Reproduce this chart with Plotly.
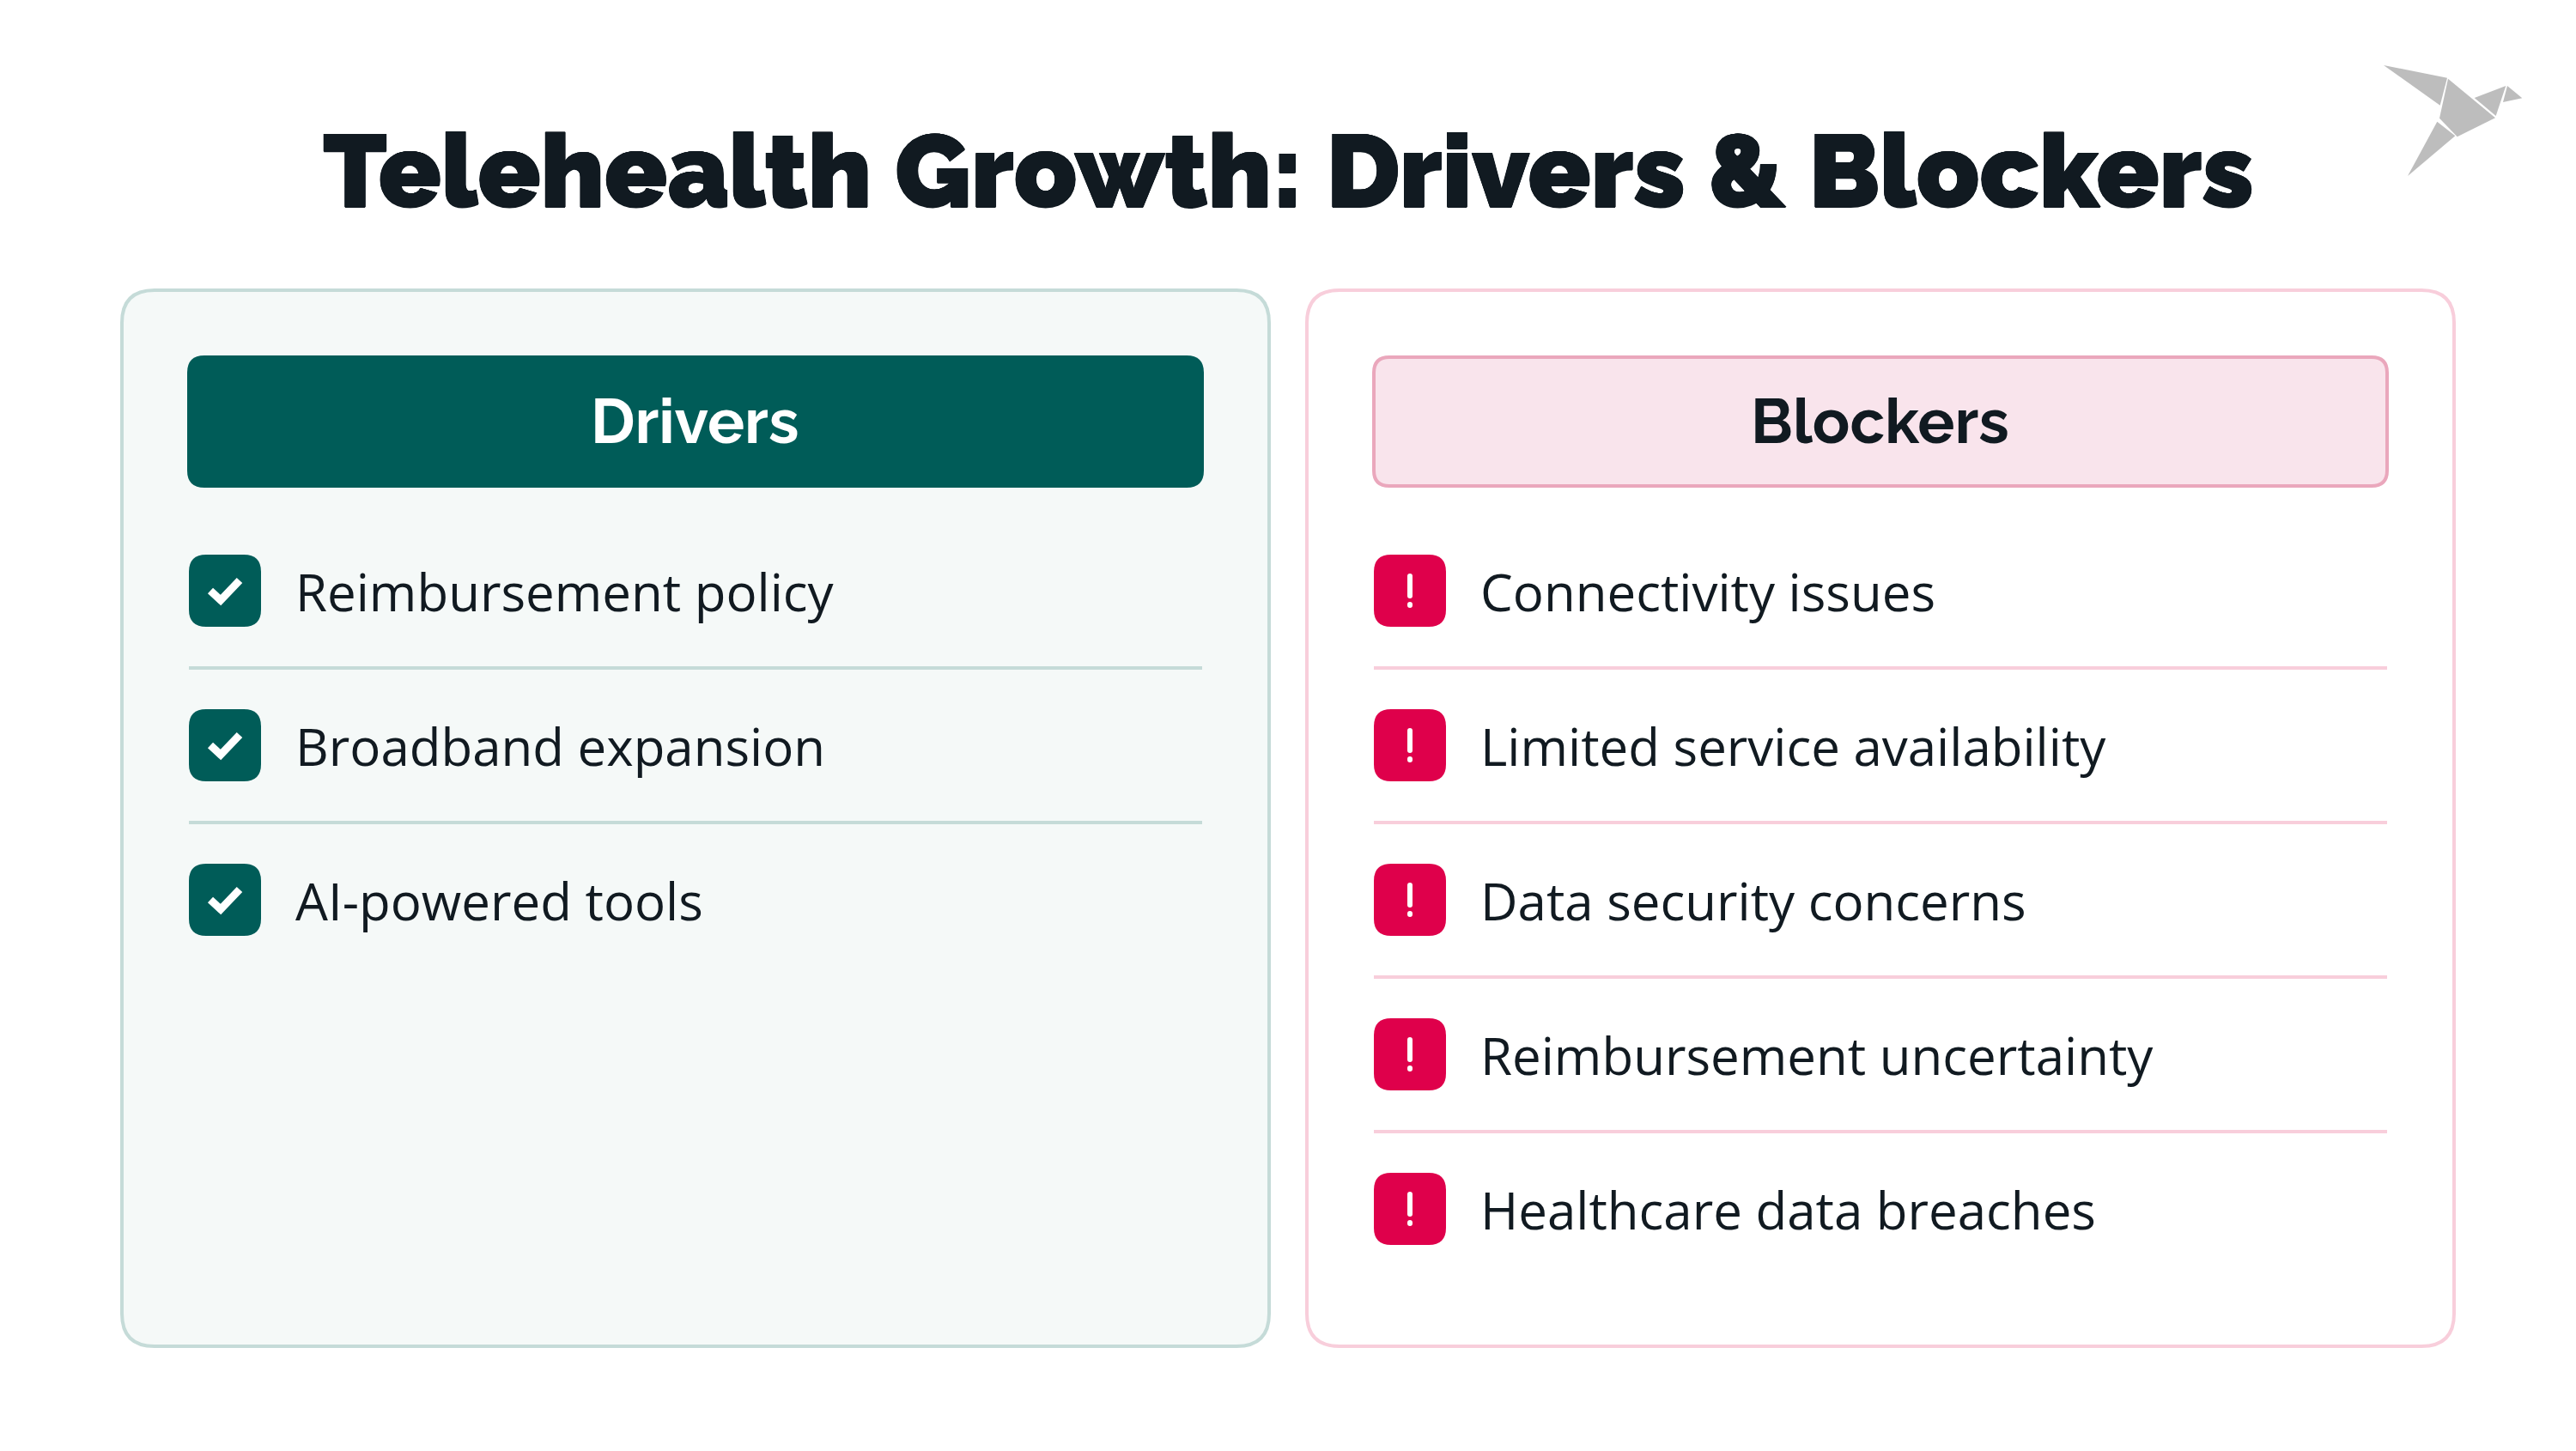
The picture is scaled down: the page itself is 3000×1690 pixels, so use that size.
import plotly.graph_objects as go

TITLE = "Telehealth Growth: Drivers & Blockers"
DRIVERS_HEADER = "Drivers"
BLOCKERS_HEADER = "Blockers"
DRIVERS = ["Reimbursement policy", "Broadband expansion", "AI-powered tools"]
BLOCKERS = [
    "Connectivity issues",
    "Limited service availability",
    "Data security concerns",
    "Reimbursement uncertainty",
    "Healthcare data breaches",
]

INK = "#111A21"
TEAL = "#005C58"
RED = "#DF004B"
W, H = 3000, 1690
ROW_STEP = 180
FIRST_ROW = 688

fig = go.Figure()
shapes = []
notes = []


def rrect(x0, y0, x1, y1, r):
    return (f"M{x0+r},{y0} L{x1-r},{y0} Q{x1},{y0} {x1},{y0+r} L{x1},{y1-r} Q{x1},{y1} {x1-r},{y1} "
            f"L{x0+r},{y1} Q{x0},{y1} {x0},{y1-r} L{x0},{y0+r} Q{x0},{y0} {x0+r},{y0} Z")


def add_path(path, fill="rgba(0,0,0,0)", line=None, width=0):
    shapes.append(dict(type="path", path=path, fillcolor=fill, layer="above",
                       line=dict(color=line or "rgba(0,0,0,0)", width=width)))


def add_text(x, y, text, size, family, color=INK, anchor="left", weight=None, shadow=None):
    notes.append(dict(x=x, y=y, xref="x", yref="y", text=text, showarrow=False, xanchor=anchor, yanchor="middle",
                      font=dict(size=size, family=family, color=color, weight=weight, shadow=shadow)))


def panel(left, right, fill, border, head_fill, head_line, head_text, head_color, items, line_color, icon_color, kind):
    add_path(rrect(left, 338, right, 1568, 38), fill, border, 4)
    hx0, hx1 = left + 76, right - 76
    if head_line:
        add_path(rrect(hx0 + 2, 416, hx1 - 2, 566, 18), head_fill, head_line, 4)
    else:
        add_path(rrect(hx0, 414, hx1, 568, 20), head_fill)
    add_text((left + right) / 2 - 1, 490, head_text, 72, "Raleway, Inter, Lato", head_color, "center", 700)
    for i, label in enumerate(items):
        cy = FIRST_ROW + i * ROW_STEP
        ix = left + 78
        add_path(rrect(ix, cy - 42, ix + 84, cy + 42, 20), icon_color)
        cx = ix + 42
        if kind == "check":
            add_path(f"M{cx-17},{cy} L{cx-5},{cy+11} L{cx+17},{cy-12}", line="#FFFFFF", width=9)
        else:
            add_path(rrect(cx - 3, cy - 20, cx + 3, cy + 9, 3), "#FFFFFF")
            add_path(rrect(cx - 3, cy + 13, cx + 3, cy + 20, 3), "#FFFFFF")
        add_text(ix + 122, cy + 1, label, 60, "Open Sans")
        if i < len(items) - 1:
            shapes.append(dict(type="line", x0=ix, x1=right - 78, y0=cy + 90, y1=cy + 90, layer="above",
                               line=dict(color=line_color, width=4)))


panel(142, 1478, "#F5F9F8", "#C5DBD8", TEAL, None, DRIVERS_HEADER, "#FFFFFF", DRIVERS, "#C5DBD8", TEAL, "check")
panel(1522, 2858, "#FFFFFF", "#F8CEDB", "#F9E4EC", "#EAA7BC", BLOCKERS_HEADER, INK, BLOCKERS, "#F8CEDB", RED, "alert")

# title, ever so slightly thickened to match the heavy weight of the original
add_text(1500, 198, TITLE, 120, "Raleway, Inter", INK, "center", 900,
         f"0.5px 0 0 {INK}, -0.5px 0 0 {INK}, 0 0.5px 0 {INK}, 0 -0.5px 0 {INK}")

# origami bird logo, top right
for pts in [
    [(2776, 76), (2850, 90.7), (2841.7, 122.7)],
    [(2851, 91.7), (2906, 137.3), (2861.7, 159.3), (2841, 137.7)],
    [(2838.3, 141.7), (2859.3, 158.3), (2804, 205)],
    [(2881.7, 114), (2918.3, 100), (2906.7, 135)],
    [(2920, 100), (2937.3, 114.3), (2915, 119)],
]:
    add_path("M" + " L".join(f"{x},{y}" for x, y in pts) + " Z", "#BDBDBD")

fig.update_layout(
    width=W, height=H, autosize=False,
    margin=dict(l=0, r=0, t=0, b=0),
    paper_bgcolor="#FFFFFF", plot_bgcolor="#FFFFFF",
    showlegend=False,
    shapes=shapes, annotations=notes,
    xaxis=dict(range=[0, W], visible=False, fixedrange=True),
    yaxis=dict(range=[H, 0], visible=False, fixedrange=True),
)
fig.write_html("out.html", config=dict(displayModeBar=False),
               post_script="document.body.style.margin='0';document.body.style.overflow='hidden';")
